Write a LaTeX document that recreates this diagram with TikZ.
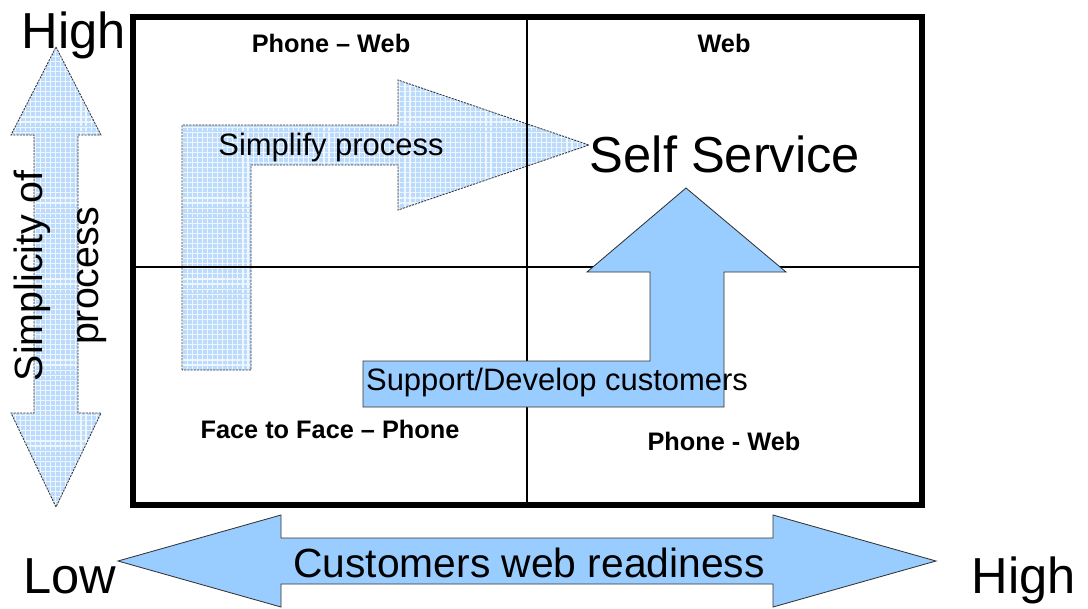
\documentclass[tikz,border=0pt]{standalone}
\usepackage{fontspec}
\setmainfont{Liberation Sans}
\usetikzlibrary{patterns.meta}
\definecolor{arrowblue}{RGB}{153,204,255}
\definecolor{gridblue}{RGB}{188,218,252}

\begin{document}
\begin{tikzpicture}[x=0.025cm, y=-0.025cm,
	solidarrow/.style={fill=arrowblue, draw=black!80, line width=0.6pt},
	gridarrow/.style={preaction={fill=gridblue},
		preaction={pattern={Lines[distance=3.6pt, line width=0.8pt]}, pattern color=white!75!gridblue},
		pattern={Lines[distance=3.6pt, angle=90, line width=0.8pt]}, pattern color=white!75!gridblue,
		draw=black!80, dash pattern=on 1.5pt off 0.8pt, line width=0.6pt},
	quad/.style={font=\fontsize{18}{20}\selectfont\bfseries, anchor=base},
	big/.style={font=\fontsize{36}{40}\selectfont, anchor=base}]
	\useasboundingbox (0,0) rectangle (1088,608);
	
	% hatched arrows (lines show through them)
	\draw[gridarrow] (56,47) -- (101,135) -- (78,135) -- (78,413) -- (101,413) -- (56,507) -- (11,413) -- (34,413) -- (34,135) -- (11,135) -- cycle;
	\draw[gridarrow] (182,370) -- (182,125) -- (398,125) -- (398,80) -- (589,145) -- (398,210) -- (398,165) -- (251,165) -- (251,370) -- cycle;
	
	% quadrants
	\draw[line width=1pt] (527,17) -- (527,505) (133,267) -- (922,267);
	\draw[line width=4.8pt] (133,17) rectangle (922,505);
	
	\draw[solidarrow] (363,361) -- (650,361) -- (650,272) -- (587,272) -- (686,188) -- (786,272) -- (724,272) -- (724,407) -- (363,407) -- cycle;
	\draw[solidarrow] (118,561) -- (281,515) -- (281,538) -- (773,538) -- (773,515) -- (936,561) -- (773,607) -- (773,584) -- (281,584) -- (281,607) -- cycle;
	
	\node (highleft) [big] at (74,48) {High};
	\node (low) [big] at (70,593) {Low};
	\node (highright) [big] at (1024,593) {High};
	\node (selfservice) [big] at (725,172) {Self Service};
	
	\node (phoneweb) [quad] at (331,52) {Phone – Web};
	\node (web) [quad] at (724,52) {Web};
	\node (facephone) [quad] at (330,438) {Face to Face – Phone};
	\node (phoneweb2) [quad] at (724,450) {Phone - Web};
	
	\node (simplify) [font=\fontsize{22}{24}\selectfont, anchor=base] at (331,155) {Simplify process};
	\node (support) [font=\fontsize{22}{24}\selectfont, anchor=base] at (557,390) {Support/Develop customers};
	\node (readiness) [font=\fontsize{29}{32}\selectfont, anchor=base] at (529,577) {Customers web readiness};
	\node (simplicity) [font=\fontsize{28}{40}\selectfont, rotate=90, align=center, inner sep=0pt] at (60,276) {Simplicity of\\process};
\end{tikzpicture}
\end{document}
